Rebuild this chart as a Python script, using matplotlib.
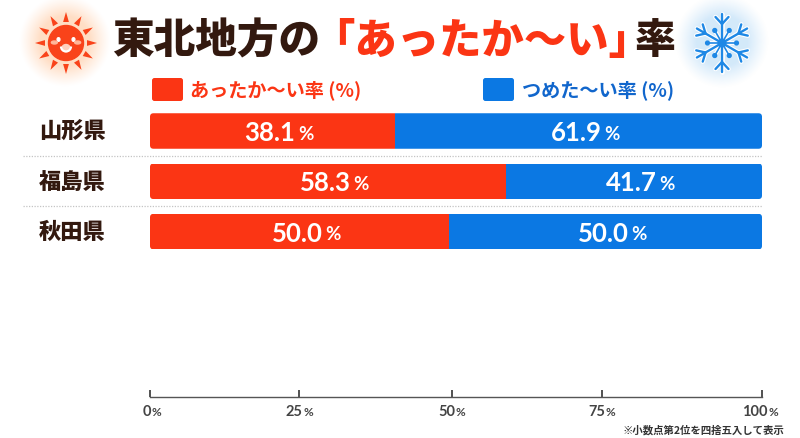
import numpy as np
import matplotlib
matplotlib.use("Agg")
import matplotlib.pyplot as plt
from matplotlib.patches import FancyBboxPatch, Circle, Polygon, Ellipse, Arc

prefectures = ["山形県", "福島県", "秋田県"]
warm_labels = ["38.1", "58.3", "50.0"]
cold_labels = ["61.9", "41.7", "50.0"]
# bar extents as drawn in the picture, in percent of the axis
warm_drawn = [40.0, 58.2, 48.9]
tick_values = [0, 24.4, 49.3, 73.8, 100]
tick_labels = ["0", "25", "50", "75", "100"]

RED = "#fb3514"; BLUE = "#0b78e3"; DARK = "#33190f"; LEG_BLUE = "#1166cc"; GREY = "#444444"
W, H = 800, 439
plt.rcParams["font.family"] = ["Noto Sans CJK JP", "DejaVu Sans"]
fig = plt.figure(figsize=(W/100, H/100), dpi=100, facecolor="white")
bg = fig.add_axes([0, 0, 1, 1]); bg.axis("off")

def glow(cx, cy, r, rgb, peak):
    n = 200
    y, x = np.mgrid[-1:1:n*1j, -1:1:n*1j]
    d = np.sqrt(x**2 + y**2)
    a = np.clip((1 - d) * 2.2, 0, 1) ** 1.2
    img = np.zeros((n, n, 4)); img[..., :3] = rgb; img[..., 3] = a * peak
    bg.imshow(img, extent=(cx-r, cx+r, cy+r, cy-r), zorder=0, interpolation="bilinear")
glow(65, 42, 46, (1, .84, .72), .8)
glow(722, 42, 47, (.80, .90, .98), .85)
bg.set_xlim(0, W); bg.set_ylim(H, 0); bg.set_aspect("auto")

# sun
sx, sy = 66, 44
SUN = "#f9431a"
bg.add_patch(Circle((sx, sy), 17.5, color=SUN, zorder=2))
for ang in np.arange(0, 360, 30):
    t = np.radians(ang + 90)
    u = np.array([np.cos(t), np.sin(t)]); v = np.array([-u[1], u[0]])
    c = np.array([sx, sy])
    bg.add_patch(Polygon([c+u*21+v*2.9, c+u*21-v*2.9, c+u*31], color=SUN, zorder=2, lw=0))
for dx in (-7.5, 7.5):
    bg.add_patch(Ellipse((sx+dx, sy-3.5), 2.8, 3.6, color="white", zorder=3))
    bg.add_patch(Ellipse((sx+dx*1.55, sy-0.5), 6, 3, color="#ffb79a", zorder=3))
bg.add_patch(Ellipse((sx, sy+5), 8, 7, color="#ffd0bd", zorder=3))
bg.add_patch(Arc((sx, sy+3.5), 10, 10, theta1=0, theta2=180, color="white", lw=1.6, zorder=4))

# snowflake
fx, fy = 722, 44
SNOW = "#1e88e5"
c = np.array([fx, fy])
segs = []
for ang in np.arange(30, 360, 60):
    t = np.radians(ang)
    u = np.array([np.cos(t), np.sin(t)]); v = np.array([-u[1], u[0]])
    segs.append((c, c+u*29, 1.7))
    segs.append((c+u*19, c+u*26+v*6.5, 1.7))
    segs.append((c+u*19, c+u*26-v*6.5, 1.7))
    t2 = t + np.radians(30)
    u2 = np.array([np.cos(t2), np.sin(t2)])
    segs.append((c, c+u2*14, 1.2))
for a, b, lw in segs:
    bg.plot([a[0], b[0]], [a[1], b[1]], color="white", lw=lw+1.6, solid_capstyle="round", zorder=2.5)
for a, b, lw in segs:
    bg.plot([a[0], b[0]], [a[1], b[1]], color=SNOW, lw=lw, solid_capstyle="round", zorder=3)
for ang in np.arange(0, 360, 60):
    t = np.radians(ang)
    bg.add_patch(Circle((fx+14.5*np.cos(t), fy+14.5*np.sin(t)), 1.9, color=SNOW, zorder=4))
bg.add_patch(Circle((fx, fy), 3.8, color=SNOW, zorder=4))

# title
tk = dict(weight="black", va="center", ha="left")
bg.text(112, 41, "東北地方の", color=DARK, fontsize=30, **tk)
bg.text(312, 41, "「あったか〜い」", color=RED, fontsize=30.5, **tk)
bg.text(635, 41, "率", color=DARK, fontsize=29.5, **tk)

# legend
for x0, col, s, tc, fs in ((152, RED, "あったか〜い率 (%)", RED, 13.8), (483, BLUE, "つめた〜い率 (%)", LEG_BLUE, 13.8)):
    bg.add_patch(FancyBboxPatch((x0, 79), 31, 23, boxstyle="round,pad=0,rounding_size=2.5", fc=col, ec="none"))
    bg.text(x0+38.5, 90.5, s, color=tc, fontsize=fs, weight="bold", va="center", ha="left")

# chart
y_step = 50.3; y0 = 132
L, R, TOP, BOT = 150, 762, 100, 397.7
ax = fig.add_axes([L/W, 1-BOT/H, (R-L)/W, (BOT-TOP)/H])
ax.patch.set_alpha(0)
ax.set_xlim(0, 100); ax.set_ylim((BOT-y0)/y_step, (TOP-y0)/y_step)
ypos = np.arange(len(prefectures))
cold_drawn = [100 - v for v in warm_drawn]
h = 35.5/y_step
b1 = ax.barh(ypos, warm_drawn, height=h, color=RED, lw=0)
b2 = ax.barh(ypos, cold_drawn, left=warm_drawn, height=h, color=BLUE, lw=0)
PX = 0.72  # points per pixel at dpi 100
for i in ypos:
    cy = y0 + i*y_step
    clip = FancyBboxPatch((L, cy-h*y_step/2), R-L, h*y_step, boxstyle="round,pad=0,rounding_size=3.5",
                          transform=bg.transData, fc="none", ec="none")
    bg.add_patch(clip)
    b1[i].set_clip_path(clip); b2[i].set_clip_path(clip)
    for x, s in ((warm_drawn[i]/2, warm_labels[i]), (warm_drawn[i]+cold_drawn[i]/2, cold_labels[i])):
        ax.annotate(s, (x, i), xytext=(23*PX, -1*PX), textcoords="offset points", color="white", ha="right", va="center",
                    fontsize=18.5, weight="bold", family=["Lato"])
        ax.annotate("%", (x, i), xytext=(25.5*PX, -2*PX), textcoords="offset points", color="white", ha="left", va="center",
                    fontsize=13.5, weight="bold", family=["Lato"])
    bg.text(72.5, cy, prefectures[i], color=DARK, fontsize=16, weight="black", ha="center", va="center")
for i in (0, 1):
    py = y0 + (i+.5)*y_step
    bg.plot([23, 762], [py, py], color="#c4c4c4", lw=.9, ls=(0, (1, 1.2)))

for s in ("top", "left", "right"):
    ax.spines[s].set_visible(False)
ax.spines["bottom"].set_color("#555555"); ax.spines["bottom"].set_linewidth(1.0)
ax.set_yticks([])
ax.set_xticks(tick_values)
ax.set_xticklabels([])
ax.tick_params(axis="x", direction="in", length=5, width=1.2, color="#333333")
for v, s in zip(tick_values, tick_labels):
    off = len(s)*2.5 - 1.5
    ax.annotate(s, (v, 0), xycoords=("data", "axes fraction"), xytext=(off*PX, -14.5*PX), textcoords="offset points",
                ha="right", va="center", fontsize=10.5, color=GREY, weight="bold", family=["Lato"])
    ax.annotate("%", (v, 0), xycoords=("data", "axes fraction"), xytext=((off+0.5)*PX, -15*PX), textcoords="offset points",
                ha="left", va="center", fontsize=8.5, color=GREY, weight="bold", family=["Lato"])
bg.text(784, 430, "※小数点第2位を四捨五入して表示", fontsize=7.5, color="#333333", ha="right", va="center", weight="bold")

fig.savefig("out.png", dpi=100)
